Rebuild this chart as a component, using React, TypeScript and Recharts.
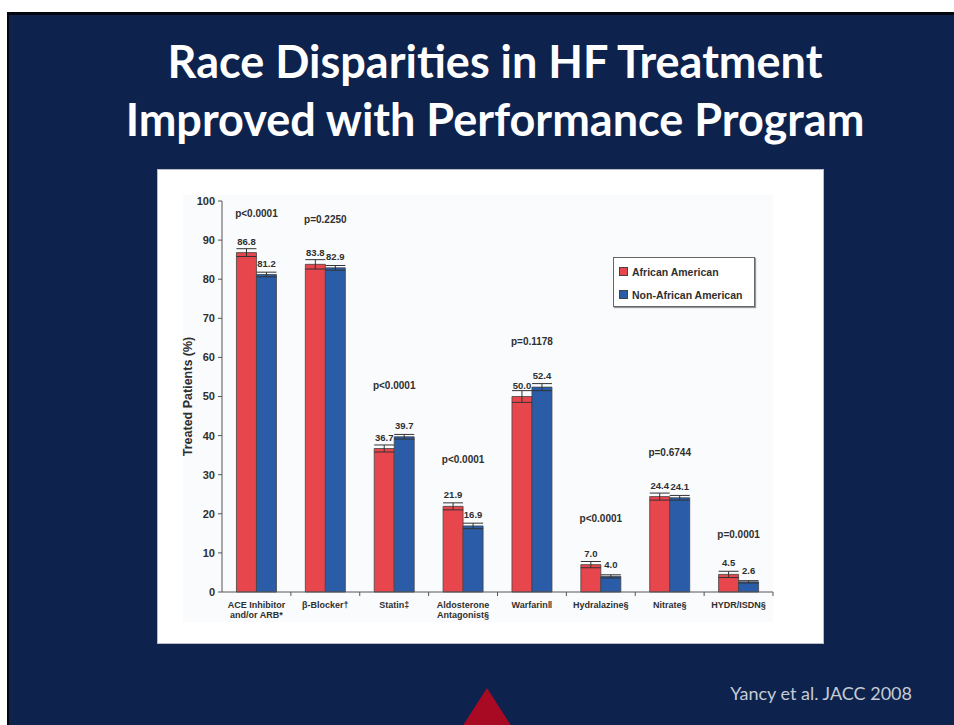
import { Bar, ComposedChart, ErrorBar, LabelList, Legend, Line, XAxis, YAxis } from 'recharts'

const categories = [
  'ACE Inhibitor\nand/or ARB*',
  'β-Blocker†',
  'Statin‡',
  'Aldosterone\nAntagonist§',
  'Warfarin‖',
  'Hydralazine§',
  'Nitrate§',
  'HYDR/ISDN§',
]
const africanAmerican = [86.8, 83.8, 36.7, 21.9, 50.0, 7.0, 24.4, 4.5]
const nonAfricanAmerican = [81.2, 82.9, 39.7, 16.9, 52.4, 4.0, 24.1, 2.6]
const africanAmericanErr = [1.0, 1.2, 0.9, 0.9, 1.5, 0.8, 0.9, 0.8]
const nonAfricanAmericanErr = [0.6, 0.6, 0.6, 0.7, 0.9, 0.4, 0.6, 0.3]
const pValues = ['p<0.0001', 'p=0.2250', 'p<0.0001', 'p<0.0001', 'p=0.1178', 'p<0.0001', 'p=0.6744', 'p=0.0001']
const pLabelLevel = [96.9, 95.4, 52.9, 33.8, 64.2, 18.9, 35.8, 14.8]
const yTicks = [0, 10, 20, 30, 40, 50, 60, 70, 80, 90, 100]

const RED = '#e8464d'
const BLUE = '#2a5ca8'
const INK = '#2f2f2f'
const NAVY = '#0d234e'

const PLOT_W = 551
const BAND = PLOT_W / categories.length

const data = categories.map((name, i) => ({
  name,
  aa: africanAmerican[i],
  naa: nonAfricanAmerican[i],
  aaErr: africanAmericanErr[i],
  naaErr: nonAfricanAmericanErr[i],
  pLevel: pLabelLevel[i],
  pText: pValues[i],
}))

function CategoryTick({ x, y, payload }: any) {
  const lines = String(payload.value).split('\n')
  return (
    <g>
      <line x1={x + BAND / 2} x2={x + BAND / 2} y1={y - 8} y2={y - 4} stroke="#555" />
      <text x={x} y={y + 8} textAnchor="middle" fontSize={9} fontWeight="bold" fill={INK} fontFamily="'Liberation Sans', Arial, sans-serif">
        {lines.map((l, i) => (
          <tspan key={i} x={x} dy={i === 0 ? 0 : 10}>{l}</tspan>
        ))}
      </text>
    </g>
  )
}

function LegendBox() {
  const items = [
    { label: 'African American', color: RED },
    { label: 'Non-African American', color: BLUE },
  ]
  return (
    <div
      style={{
        border: '1px solid #666',
        boxShadow: '1px 1px 1px #999',
        background: '#fff',
        width: 142,
        boxSizing: 'border-box',
        padding: '2px 0 0 5px',
        fontFamily: "'Liberation Sans', Arial, sans-serif",
        fontWeight: 'bold',
        fontSize: 10.5,
        color: INK,
      }}
    >
      {items.map((it) => (
        <div key={it.label} style={{ display: 'flex', alignItems: 'center', height: 23 }}>
          <span style={{ width: 7, height: 7, background: it.color, border: '1px solid #444', marginRight: 4 }} />
          {it.label}
        </div>
      ))}
    </div>
  )
}

function YLabel({ viewBox }: any) {
  const cx = viewBox.x + 6
  const cy = viewBox.y + viewBox.height / 2
  return (
    <text
      x={cx}
      y={cy}
      transform={`rotate(-90 ${cx} ${cy})`}
      textAnchor="middle"
      dominantBaseline="central"
      fontSize={12.5}
      fontWeight="bold"
      fill={INK}
      fontFamily="'Liberation Sans', Arial, sans-serif"
    >
      Treated Patients (%)
    </text>
  )
}

export default function App() {
  const font = "'Liberation Sans', Arial, sans-serif"
  return (
    <div style={{ position: 'absolute', left: 0, top: 0, width: 954, height: 725, background: '#fff', overflow: 'hidden' }}>
      <div
        style={{
          position: 'absolute',
          left: 7,
          top: 12,
          right: 0,
          bottom: 0,
          background: NAVY,
          borderLeft: '2px solid #03070f',
          borderTop: '3px solid #03070f',
        }}
      />
      <div
        style={{
          position: 'absolute',
          left: 0,
          width: 990,
          top: 32,
          color: '#fff',
          fontFamily: 'Lato, sans-serif',
          fontWeight: 'bold',
          fontSize: 45,
          lineHeight: '58px',
          textAlign: 'center',
        }}
      >
        Race Disparities in HF Treatment
        <br />
        Improved with Performance Program
      </div>
      <div
        style={{
          position: 'absolute',
          left: 158,
          top: 170,
          width: 665,
          height: 473,
          background: '#fff',
          boxShadow: '0 0 0 1px #b8bcc6',
        }}
      >
        <div style={{ position: 'absolute', left: 25, top: 25, width: 590, height: 427, background: '#f9fbfd' }} />
        <div style={{ position: 'absolute', left: 0, top: 0 }}>
          <ComposedChart
            width={665}
            height={473}
            data={data}
            margin={{ top: 31, right: 50, left: 24, bottom: 16 }}
            barGap={0}
            barCategoryGap="21%"
          >
            <XAxis
              dataKey="name"
              height={35}
              interval={0}
              tickLine={false}
              axisLine={{ stroke: '#555' }}
              tick={<CategoryTick />}
            />
            <YAxis
              width={40}
              domain={[0, 100]}
              ticks={yTicks}
              interval={0}
              tickSize={4}
              tickMargin={3}
              axisLine={{ stroke: '#555' }}
              tickLine={{ stroke: '#555' }}
              tick={{ fontSize: 11, fontWeight: 'bold', fill: INK, fontFamily: font }}
              label={<YLabel />}
            />
            <Legend
              layout="horizontal"
              verticalAlign="middle"
              align="center"
              content={<LegendBox />}
              wrapperStyle={{ position: 'absolute', left: 455, top: 87, width: 'auto' }}
            />
            <Bar dataKey="aa" name="African American" fill={RED} stroke="#444" strokeWidth={0.8} isAnimationActive={false}>
              <ErrorBar dataKey="aaErr" width={10} stroke="#333" strokeWidth={1} />
              <LabelList dataKey="aa" position="top" offset={8} formatter={(v: any) => Number(v).toFixed(1)} fontSize={9.5} fontWeight="bold" fill={INK} fontFamily={font} />
            </Bar>
            <Bar dataKey="naa" name="Non-African American" fill={BLUE} stroke="#444" strokeWidth={0.8} isAnimationActive={false}>
              <ErrorBar dataKey="naaErr" width={10} stroke="#333" strokeWidth={1} />
              <LabelList dataKey="naa" position="top" offset={8} formatter={(v: any) => Number(v).toFixed(1)} fontSize={9.5} fontWeight="bold" fill={INK} fontFamily={font} />
            </Bar>
            <Line dataKey="pLevel" stroke="none" dot={false} activeDot={false} legendType="none" isAnimationActive={false}>
              <LabelList dataKey="pText" position="center" fontSize={10} fontWeight="bold" fill={INK} fontFamily={font} />
            </Line>
          </ComposedChart>
        </div>
      </div>
      <div
        style={{
          position: 'absolute',
          right: 42,
          top: 682,
          color: '#c6cbd4',
          fontFamily: 'Lato, sans-serif',
          fontSize: 18,
        }}
      >
        Yancy et al. JACC 2008
      </div>
      <svg style={{ position: 'absolute', left: 0, top: 0 }} width={954} height={725}>
        <polygon points="487,688 462,727 512,727" fill="#a80a24" />
      </svg>
    </div>
  )
}
